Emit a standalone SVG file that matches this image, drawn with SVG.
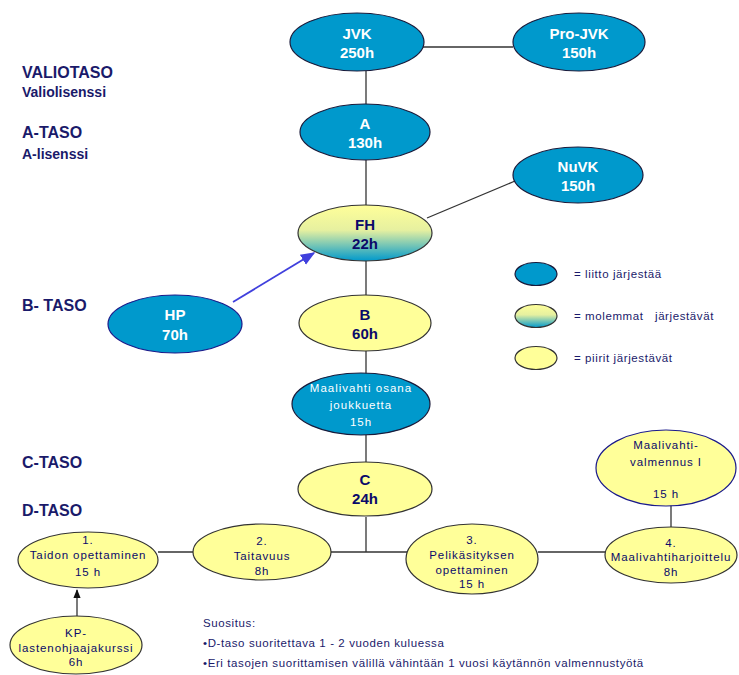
<svg xmlns="http://www.w3.org/2000/svg" width="739" height="675" viewBox="0 0 739 675">
<style>
.blue{fill:#0099cc;stroke:#1a1a3a;stroke-width:1.2}
.yel{fill:#ffff99;stroke:#333;stroke-width:1.2}
.bb{stroke:#1a1a8a}
.wt{font-family:"Liberation Sans",Arial,sans-serif;font-weight:bold;font-size:15px;fill:#fff;text-anchor:middle}
.nt{font-family:"Liberation Sans",Arial,sans-serif;font-weight:bold;font-size:15px;fill:#0a0a6a;text-anchor:middle}
.ws{font-family:"Liberation Sans",Arial,sans-serif;font-size:11.5px;fill:#fff;text-anchor:middle;letter-spacing:1px}
.ys{font-family:"Liberation Sans",Arial,sans-serif;font-size:11.5px;fill:#0a0a6a;text-anchor:middle;letter-spacing:0.9px}
.lv{font-family:"Liberation Sans",Arial,sans-serif;font-weight:bold;font-size:16px;fill:#1a1a6a}
.lv2{font-family:"Liberation Sans",Arial,sans-serif;font-weight:bold;font-size:14px;fill:#1a1a6a}
.lg{font-family:"Liberation Sans",Arial,sans-serif;font-size:11.5px;fill:#1a1a6a;letter-spacing:0.6px;white-space:pre}
.ln{stroke:#333;stroke-width:1.3;fill:none}
</style>
<defs>
<linearGradient id="g" x1="0" y1="0" x2="0" y2="1">
<stop offset="0" stop-color="#ffff99"/>
<stop offset="0.45" stop-color="#e6f0a0"/>
<stop offset="1" stop-color="#0099cc"/>
</linearGradient>
<marker id="ab" viewBox="0 0 10 10" refX="9" refY="5" markerWidth="8" markerHeight="8" orient="auto"><path d="M0,1 L10,5 L0,9 z" fill="#4040dd"/></marker>
<marker id="ak" viewBox="0 0 10 10" refX="9" refY="5" markerWidth="7" markerHeight="7" orient="auto"><path d="M0,1 L10,5 L0,9 z" fill="#111"/></marker>
</defs>
<g id="connectors">
<line class="ln" x1="423" y1="47" x2="513" y2="47"/>
<line class="ln" x1="366" y1="71" x2="366" y2="105"/>
<line class="ln" x1="366" y1="160" x2="366" y2="205"/>
<line class="ln" x1="427" y1="218" x2="515" y2="181"/>
<line class="ln" x1="366" y1="261" x2="366" y2="295"/>
<line class="ln" x1="366" y1="351" x2="366" y2="374"/>
<line class="ln" x1="366" y1="435" x2="366" y2="462"/>
<line class="ln" x1="366" y1="517" x2="366" y2="552"/>
<line class="ln" x1="158" y1="552" x2="193" y2="552"/>
<line class="ln" x1="331" y1="552" x2="407" y2="552"/>
<line class="ln" x1="538" y1="552" x2="605" y2="552"/>
<line class="ln" x1="671" y1="505" x2="671" y2="528"/>
<line x1="233" y1="302" x2="314" y2="253" stroke="#4040dd" stroke-width="1.8" marker-end="url(#ab)"/>
<line class="ln" x1="77" y1="616" x2="77" y2="590" marker-end="url(#ak)"/>
</g>
<g id="labels">
<text class="lv" x="22" y="78">VALIOTASO</text>
<text class="lv2" x="22" y="97">Valiolisenssi</text>
<text class="lv" x="22" y="138">A-TASO</text>
<text class="lv2" x="22" y="159">A-lisenssi</text>
<text class="lv" x="22" y="311">B- TASO</text>
<text class="lv" x="22" y="468">C-TASO</text>
<text class="lv" x="22" y="516">D-TASO</text>
</g>
<g id="JVK"><ellipse class="blue" cx="357" cy="42" rx="67" ry="29"/><text class="wt" x="357" y="39">JVK</text><text class="wt" x="357" y="58">250h</text></g>
<g id="ProJVK"><ellipse class="blue" cx="579" cy="42" rx="66" ry="29"/><text class="wt" x="579" y="39">Pro-JVK</text><text class="wt" x="579" y="58">150h</text></g>
<g id="A"><ellipse class="blue" cx="365" cy="132" rx="65" ry="28"/><text class="wt" x="365" y="129">A</text><text class="wt" x="365" y="148">130h</text></g>
<g id="NuVK"><ellipse class="blue" cx="578" cy="175" rx="65" ry="28"/><text class="wt" x="578" y="172">NuVK</text><text class="wt" x="578" y="191">150h</text></g>
<g id="FH"><ellipse cx="365" cy="233" rx="67" ry="28" fill="url(#g)" stroke="#333" stroke-width="1.2"/><text class="nt" x="365" y="230">FH</text><text class="nt" x="365" y="249">22h</text></g>
<g id="HP"><ellipse class="blue bb" cx="175" cy="324" rx="67" ry="29"/><text class="wt" x="175" y="320">HP</text><text class="wt" x="175" y="340">70h</text></g>
<g id="B"><ellipse class="yel" cx="365" cy="323" rx="66" ry="28"/><text class="nt" x="365" y="320">B</text><text class="nt" x="365" y="339">60h</text></g>
<g id="Maalivahti"><ellipse class="blue" cx="361" cy="404" rx="69" ry="31"/><text class="ws" x="361" y="392">Maalivahti osana</text><text class="ws" x="361" y="409">joukkuetta</text><text class="ws" x="361" y="426">15h</text></g>
<g id="C"><ellipse class="yel" cx="365" cy="489" rx="67" ry="27"/><text class="nt" x="365" y="485">C</text><text class="nt" x="365" y="504">24h</text></g>
<g id="D1"><ellipse class="yel" cx="88" cy="560" rx="70" ry="28"/><text class="ys" x="88" y="544">1.</text><text class="ys" x="88" y="559">Taidon opettaminen</text><text class="ys" x="88" y="576">15 h</text></g>
<g id="D2"><ellipse class="yel" cx="262" cy="552" rx="69" ry="28"/><text class="ys" x="262" y="545">2.</text><text class="ys" x="262" y="560">Taitavuus</text><text class="ys" x="262" y="575">8h</text></g>
<g id="D3"><ellipse class="yel" cx="472" cy="559" rx="66" ry="35"/><text class="ys" x="472" y="544">3.</text><text class="ys" x="472" y="559">Pelikäsityksen</text><text class="ys" x="472" y="574">opettaminen</text><text class="ys" x="472" y="588">15 h</text></g>
<g id="D4"><ellipse class="yel" cx="671" cy="555" rx="66" ry="28"/><text class="ys" x="671" y="547">4.</text><text class="ys" x="671" y="561">Maalivahtiharjoittelu</text><text class="ys" x="671" y="576">8h</text></g>
<g id="MVvalmennus"><ellipse class="yel bb" cx="666" cy="468" rx="70" ry="38"/><text class="ys" x="666" y="449">Maalivahti-</text><text class="ys" x="666" y="466">valmennus I</text><text class="ys" x="666" y="498">15 h</text></g>
<g id="KP"><ellipse class="yel" cx="76" cy="645" rx="66" ry="29"/><text class="ys" x="76" y="637">KP-</text><text class="ys" x="76" y="652">lastenohjaajakurssi</text><text class="ys" x="76" y="666">6h</text></g>
<g id="legend">
<ellipse class="blue" cx="536" cy="274" rx="21" ry="11.5"/>
<ellipse cx="536" cy="316" rx="21" ry="11.5" fill="url(#g)" stroke="#333" stroke-width="1.2"/>
<ellipse class="yel" cx="536" cy="358" rx="21" ry="11.5"/>
<text class="lg" x="574" y="278">= liitto järjestää</text>
<text class="lg" x="574" y="320" xml:space="preserve">= molemmat   järjestävät</text>
<text class="lg" x="574" y="362">= piirit järjestävät</text>
</g>
<g id="note">
<text class="lg" x="203" y="627">Suositus:</text>
<text class="lg" x="203" y="647">•D-taso suoritettava 1 - 2 vuoden kuluessa</text>
<text class="lg" x="203" y="667">•Eri tasojen suorittamisen välillä vähintään 1 vuosi käytännön valmennustyötä</text>
</g>
</svg>
